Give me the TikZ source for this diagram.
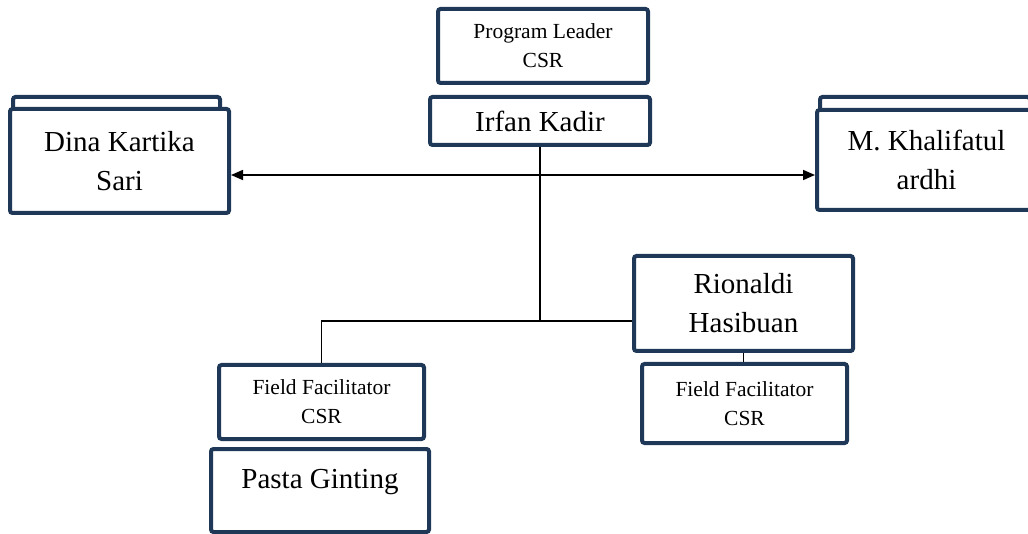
\documentclass[tikz,border=0pt]{standalone}
\usepackage{fontspec}
\setmainfont{Liberation Serif}
\usepackage{tikz}
\usetikzlibrary{arrows.meta,calc,positioning}
\definecolor{boxblue}{RGB}{31,56,88}
\tikzset{>={Triangle[length=12pt,width=10pt]},
	namebox/.style={% boxes holding a name
		draw=boxblue, fill=white,
		line width=4pt,
		rectangle, rounded corners=2.5pt,
		inner sep=0pt,
		align=center,
		font=\fontsize{29}{39}\selectfont
	},
	rolebox/.style={% boxes holding a role
		namebox,
		font=\fontsize{21.5}{29}\selectfont
	},
	link/.style={
		draw=black, line width=1.7pt
	}
}

\begin{document}
\begin{tikzpicture}[x=1pt,y=-1pt]
			\useasboundingbox (0,0) rectangle (1028,534);
			\node [rolebox, minimum width=210pt, minimum height=74pt] (lead) at (543,46) {Program Leader\\CSR};
			\node [namebox, minimum width=220pt, minimum height=48pt] (irfan) at (540,121) {Irfan Kadir};
			\node [namebox, minimum width=207pt, minimum height=40pt] (dinab) at (116.5,117) {};
			\node [namebox, minimum width=219pt, minimum height=104pt] (dina) at (119.5,161) {Dina Kartika\\Sari};
			\node [namebox, minimum width=210pt, minimum height=40pt] (khalb) at (925,117) {};
			\node [namebox, minimum width=219pt, minimum height=100pt] (khal) at (926.5,160) {M. Khalifatul\\ardhi};
			\node [namebox, minimum width=219pt, minimum height=95pt] (rio) at (743.5,303.5) {Rionaldi\\Hasibuan};
			\node [rolebox, minimum width=205pt, minimum height=79pt] (ffr) at (744.5,403.5) {Field Facilitator\\CSR};
			\node [rolebox, minimum width=205pt, minimum height=74pt] (ffl) at (321.5,402) {Field Facilitator\\CSR};
			\node [namebox, minimum width=218pt, minimum height=83pt] (pasta) at (320,490.5) {Pasta Ginting\\[-16pt]\mbox{}};
			\coordinate (hub) at (540,175);
			\coordinate (mid) at (540,321);
			\draw [link, <->] (dina.east |- hub) -- (khal.west |- hub);
			\draw [link] (irfan.south) -- (mid);
			\draw [link] (mid) -- (rio.west |- mid);
			\draw [link] (mid) -| (ffl.north);
			\draw [link] (rio.south) -- (rio.south |- ffr.north);
\end{tikzpicture}
\end{document}
